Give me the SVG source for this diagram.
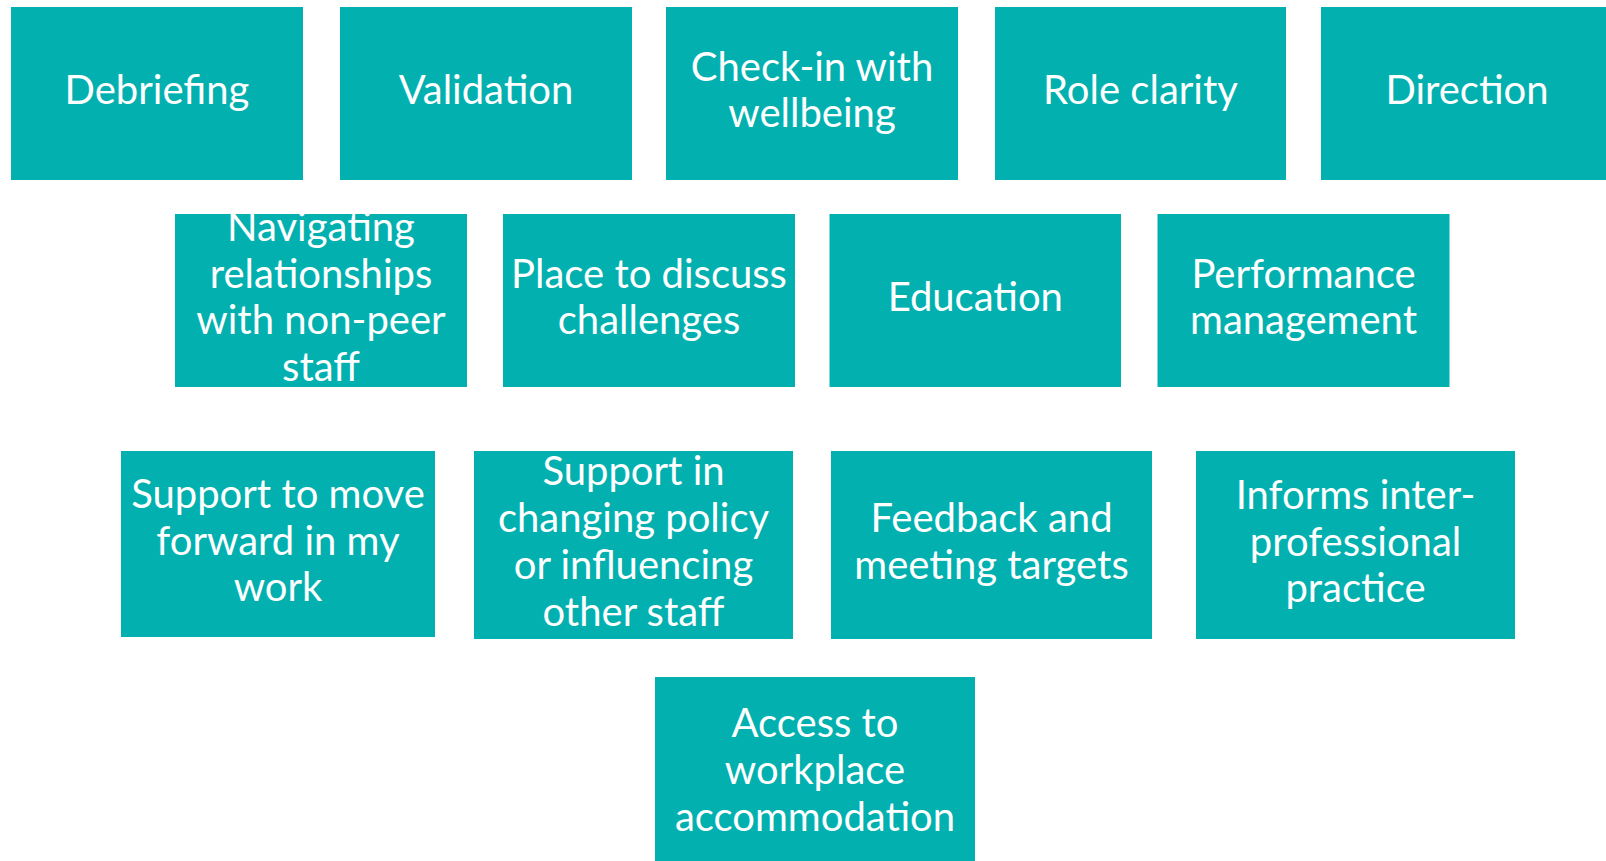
<svg xmlns="http://www.w3.org/2000/svg" width="1606" height="861" viewBox="0 0 1606 861">
  <style>
    .box { fill: #02B1AF; }
    .lbl { fill: #FFFFFF; font-family: Lato, "Liberation Sans", sans-serif; font-size: 40px; text-anchor: middle; }
  </style>
  <rect x="0" y="0" width="1606" height="861" fill="#FFFFFF"/>

  <!-- Row 1 -->
  <g id="debriefing">
    <rect class="box" x="11" y="7" width="292" height="173"/>
    <text class="lbl" x="157" y="104">Debriefing</text>
  </g>
  <g id="validation">
    <rect class="box" x="340" y="7" width="292" height="173"/>
    <text class="lbl" x="486" y="104">Validation</text>
  </g>
  <g id="check-in">
    <rect class="box" x="666" y="7" width="292" height="173"/>
    <text class="lbl" x="812" y="80.6">Check-in with</text>
    <text class="lbl" x="812" y="127.4">wellbeing</text>
  </g>
  <g id="role-clarity">
    <rect class="box" x="995" y="7" width="291" height="173"/>
    <text class="lbl" x="1140.5" y="104">Role clarity</text>
  </g>
  <g id="direction">
    <rect class="box" x="1321" y="7" width="292" height="173"/>
    <text class="lbl" x="1467" y="104">Direction</text>
  </g>

  <!-- Row 2 -->
  <g id="navigating">
    <rect class="box" x="175" y="214" width="292" height="173"/>
    <text class="lbl" x="321" y="240.8">Navigating</text>
    <text class="lbl" x="321" y="287.6">relationships</text>
    <text class="lbl" x="321" y="334.4">with non-peer</text>
    <text class="lbl" x="321" y="381.2">staff</text>
  </g>
  <g id="place-to-discuss">
    <rect class="box" x="503" y="214" width="292" height="173"/>
    <text class="lbl" x="649" y="287.6">Place to discuss</text>
    <text class="lbl" x="649" y="334.4">challenges</text>
  </g>
  <g id="education">
    <rect class="box" x="829.5" y="214" width="291.5" height="173"/>
    <text class="lbl" x="975.3" y="311">Education</text>
  </g>
  <g id="performance">
    <rect class="box" x="1157.5" y="214" width="292" height="173"/>
    <text class="lbl" x="1303.5" y="287.6">Performance</text>
    <text class="lbl" x="1303.5" y="334.4">management</text>
  </g>

  <!-- Row 3 -->
  <g id="support-move-forward">
    <rect class="box" x="121" y="451" width="314" height="186"/>
    <text class="lbl" x="278" y="507.7">Support to move</text>
    <text class="lbl" x="278" y="554.5">forward in my</text>
    <text class="lbl" x="278" y="601.3">work</text>
  </g>
  <g id="support-policy">
    <rect class="box" x="474" y="451" width="319" height="188"/>
    <text class="lbl" x="633.5" y="485.3">Support in</text>
    <text class="lbl" x="633.5" y="532.1">changing policy</text>
    <text class="lbl" x="633.5" y="578.9">or influencing</text>
    <text class="lbl" x="633.5" y="625.7">other staff</text>
  </g>
  <g id="feedback">
    <rect class="box" x="831" y="451" width="321" height="188"/>
    <text class="lbl" x="991.5" y="532.1">Feedback and</text>
    <text class="lbl" x="991.5" y="578.9">meeting targets</text>
  </g>
  <g id="informs">
    <rect class="box" x="1196" y="451" width="319" height="188"/>
    <text class="lbl" x="1355.5" y="508.7">Informs inter-</text>
    <text class="lbl" x="1355.5" y="555.5">professional</text>
    <text class="lbl" x="1355.5" y="602.3">practice</text>
  </g>

  <!-- Row 4 -->
  <g id="access">
    <rect class="box" x="655" y="677" width="320" height="193"/>
    <text class="lbl" x="815" y="737.1">Access to</text>
    <text class="lbl" x="815" y="783.9">workplace</text>
    <text class="lbl" x="815" y="830.7">accommodation</text>
  </g>

  <!-- no connectors in this layout -->
  <g id="connectors"/>
</svg>
